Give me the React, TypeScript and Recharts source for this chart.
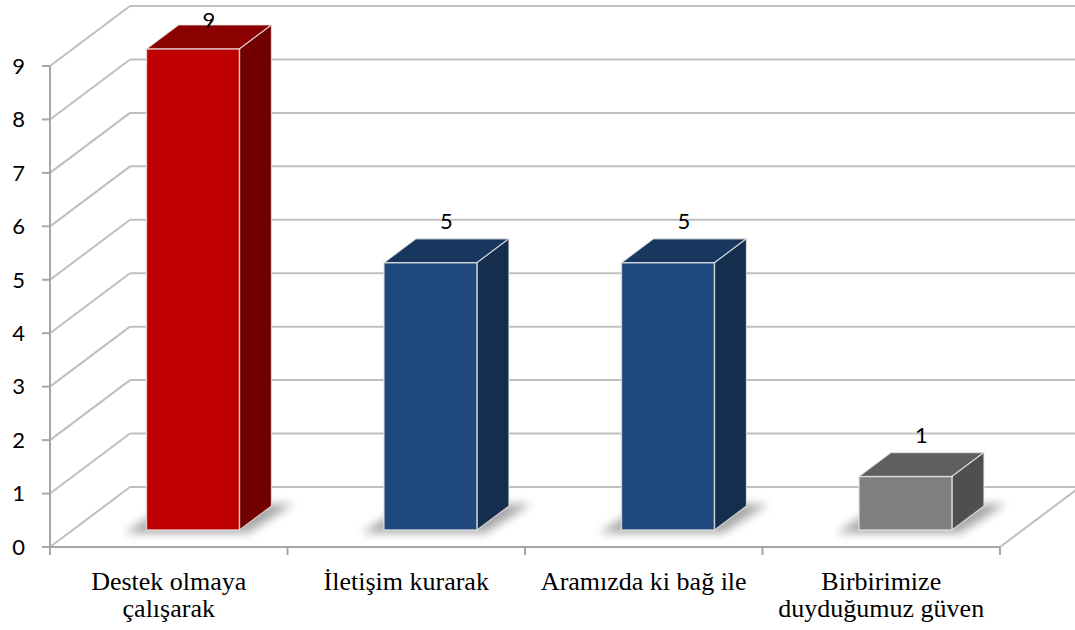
import { BarChart, Bar, XAxis, YAxis, CartesianGrid, LabelList } from "recharts";

const categories = [
  "Destek olmaya\nçalışarak",
  "İletişim kurarak",
  "Aramızda ki bağ ile",
  "Birbirimize\nduyduğumuz güven",
];
const values = [9, 5, 5, 1];
const yTicks = [0, 1, 2, 3, 4, 5, 6, 7, 8, 9];

const frontColors = ["#C00000", "#1F497D", "#1F497D", "#7F7F7F"];
const topColors = ["#8B0000", "#17375E", "#17375E", "#5F5F5F"];
const sideColors = ["#720000", "#152E4E", "#152E4E", "#4F4F4F"];

const data = categories.map((name, i) => ({ name, value: values[i] }));

// 3d look: wall depth and bar placement inside the box
const WALL_DX = 80;
const WALL_DY = -60;
const BAR_SHIFT_X = 24;
const BAR_SHIFT_Y = -17;
const BAR_DX = 32;
const BAR_DY = -24;
const GRID = "#BFBFBF";
const AXIS = "#A6A6A6";
const CHART_W = 1075;

const GridLine = (props: any) => {
  const { x1, y1 } = props;
  const bx = x1 + WALL_DX;
  const by = y1 + WALL_DY;
  return (
    <g>
      <line x1={x1} y1={y1} x2={bx} y2={by} stroke={GRID} strokeWidth={2} />
      <line x1={bx} y1={by} x2={CHART_W} y2={by} stroke={GRID} strokeWidth={2} />
    </g>
  );
};

const Bar3D = (props: any) => {
  const { x, y, width, height, index } = props;
  if (!height) return null;
  const X = x + BAR_SHIFT_X;
  const Y = y + BAR_SHIFT_Y;
  const w = width;
  const h = height;
  const base = Y + h;
  const edge = "rgba(235,235,235,0.75)";
  return (
    <g>
      <polygon
        points={`${X - 22},${base + 3} ${X + w + 8},${base + 3} ${X + w + BAR_DX + 22},${base + BAR_DY - 2} ${X + BAR_DX - 12},${base + BAR_DY}`}
        fill="#000"
        opacity={0.35}
        filter="url(#barShadow)"
      />
      <polygon
        points={`${X},${Y} ${X + BAR_DX},${Y + BAR_DY} ${X + w + BAR_DX},${Y + BAR_DY} ${X + w},${Y}`}
        fill={topColors[index]}
        stroke={edge}
        strokeWidth={1.2}
      />
      <polygon
        points={`${X + w},${Y} ${X + w + BAR_DX},${Y + BAR_DY} ${X + w + BAR_DX},${base + BAR_DY} ${X + w},${base}`}
        fill={sideColors[index]}
        stroke={edge}
        strokeWidth={1.2}
      />
      <rect x={X} y={Y} width={w} height={h} fill={frontColors[index]} stroke={edge} strokeWidth={1.5} />
    </g>
  );
};

const ValueLabel = (props: any) => {
  const { x, y, width, value } = props;
  const cx = x + BAR_SHIFT_X + width / 2 + BAR_DX / 2;
  const cy = Math.max(y + BAR_SHIFT_Y - 42, 19);
  return (
    <text
      x={cx}
      y={cy}
      textAnchor="middle"
      dominantBaseline="central"
      fontFamily="Lato"
      fontSize={22}
      fill="#000"
    >
      {value}
    </text>
  );
};

const CategoryTick = (props: any) => {
  const { x, y, payload, index, visibleTicksCount } = props;
  const half = payload.offset || 0;
  const axisY = y - 8;
  const lines = String(payload.value).split("\n");
  const isLast = index === (visibleTicksCount ?? categories.length) - 1;
  return (
    <g>
      <line x1={x - half} y1={axisY} x2={x - half} y2={axisY + 8} stroke={AXIS} strokeWidth={2} />
      {isLast && (
        <g>
          <line x1={x + half} y1={axisY} x2={x + half} y2={axisY + 8} stroke={AXIS} strokeWidth={2} />
          <line
            x1={x + half}
            y1={axisY}
            x2={x + half + WALL_DX}
            y2={axisY + WALL_DY}
            stroke={GRID}
            strokeWidth={2}
          />
        </g>
      )}
      {lines.map((t, i) => (
        <text
          key={i}
          x={x}
          y={axisY + 43 + i * 27}
          textAnchor="middle"
          fontFamily="Liberation Serif"
          fontSize={26}
          fill="#000"
        >
          {t}
        </text>
      ))}
    </g>
  );
};

export default function App() {
  return (
    <div style={{ position: "absolute", left: 0, top: 0, background: "#fff" }}>
      <svg width={0} height={0} style={{ position: "absolute" }}>
        <defs>
          <filter id="barShadow" x="-50%" y="-50%" width="200%" height="200%">
            <feGaussianBlur stdDeviation="5" />
          </filter>
        </defs>
      </svg>
      <BarChart
        width={CHART_W}
        height={630}
        data={data}
        margin={{ top: 66, right: 75, bottom: 0, left: 0 }}
        barCategoryGap="30.5%"
      >
        <CartesianGrid vertical={false} horizontal={GridLine} />
        <XAxis
          dataKey="name"
          axisLine={{ stroke: AXIS, strokeWidth: 2 }}
          tickLine={false}
          tickSize={8}
          tickMargin={0}
          height={83}
          interval={0}
          tick={CategoryTick}
        />
        <YAxis
          width={50}
          domain={[0, 9]}
          ticks={yTicks}
          interval={0}
          axisLine={{ stroke: AXIS, strokeWidth: 2 }}
          tickLine={{ stroke: AXIS, strokeWidth: 2 }}
          tickSize={8}
          tickMargin={17}
          tick={{ fontFamily: "Lato", fontSize: 22, fill: "#000" }}
        />
        <Bar dataKey="value" shape={Bar3D} isAnimationActive={false}>
          <LabelList dataKey="value" content={ValueLabel} />
        </Bar>
      </BarChart>
    </div>
  );
}
